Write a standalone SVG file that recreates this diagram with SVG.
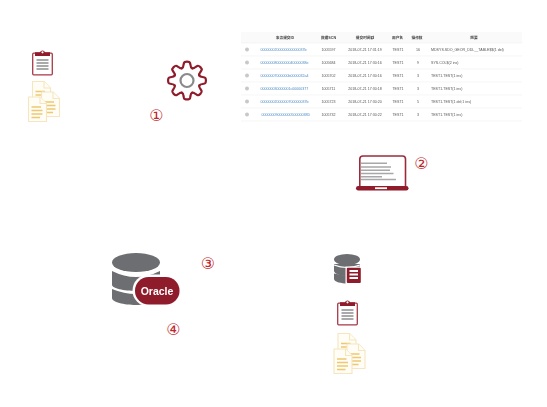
<svg xmlns="http://www.w3.org/2000/svg" xmlns:xlink="http://www.w3.org/1999/xlink" width="547" height="407" viewBox="0 0 547 407">
<style>
text{font-family:"Liberation Sans","Noto Sans CJK SC",sans-serif}
.h{font-size:3.7px;font-weight:bold;fill:#444;text-anchor:middle}
.c{font-size:3.6px;fill:#555;text-anchor:middle}
.l{font-size:3.6px;fill:#555}
.id{font-size:3.6px;fill:#4a8ac6}
.n{font-family:"DejaVu Sans",sans-serif;font-size:16px;fill:#c0272d;text-anchor:middle}
.rule{stroke:#f0f0f0;stroke-width:.6}
.dot{fill:#c8c8c8}
.pl{stroke:#f5e6bf;stroke-width:1.1;fill:#fffdf5;stroke-linejoin:round}
.ll{stroke:#efc872;stroke-width:1.4}
.cl{stroke:#8f8f8f;stroke-width:1.5}
.s{stroke:#8f1d2c;fill:none}
.soft{filter:url(#soft)}
.softer{filter:url(#softer)}
</style>
<defs>
<filter id="soft" x="-5%" y="-5%" width="110%" height="110%"><feGaussianBlur stdDeviation=".35"/></filter>
<filter id="softer" x="-2%" y="-5%" width="104%" height="110%"><feGaussianBlur stdDeviation=".22"/></filter>
<g id="clip">
<rect x=".7" y="2.700" width="19.600" height="21.600" rx="1" fill="#fff" stroke="#a83a48" stroke-width="1.300"/>
<path d="M3 1.800H8A2.600 2.600 0 0 1 13 1.800H18V5.500H3Z" fill="#8f1d2c"/>
<circle cx="10.500" cy="1.800" r="1.100" fill="#fff"/>
<path class="cl" d="M4.500 9.500H16.500M4.500 12.500H16.500M4.500 15.500H16.500M4.500 18.500H16.500"/>
</g>
<g id="page">
<path class="pl" d="M.5.5H12L18.500 7V25H.5Z"/>
<path class="pl" d="M12 .5V7H18.500"/>
<path class="ll" d="M3.500 10.500H13M3.500 14H14.500M3.500 17.500H14.500M3.500 21H12"/>
</g>
<g id="docs">
<use xlink:href="#page" x="4" y="0"/>
<use xlink:href="#page" x="13" y="10.500"/>
<use xlink:href="#page" x="0" y="15.500"/>
</g>
<path id="tooth" class="s" stroke-width="2.200" stroke-linecap="round" d="M-5.200-12.200Q-3.600-13-3.500-15.500L-3-17.600Q-2.600-18.900 0-18.900T3-17.600L3.500-15.500Q3.600-13 5.200-12.200"/>
</defs>

<g id="table" class="softer">
<rect x="241" y="32" width="281" height="90" fill="#fff"/>
<rect x="241" y="32" width="281" height="11" fill="#fafafa"/>
<path class="rule" d="M241 43H522M241 56H522M241 69H522M241 82H522M241 95H522M241 108H522M241 121H522"/>
<text class="h" x="285" y="38.500">事务提交ID</text>
<text class="h" x="328.500" y="38.500">数据SCN</text>
<text class="h" x="365" y="38.500">提交时间戳</text>
<text class="h" x="397.500" y="38.500">用户名</text>
<text class="h" x="417" y="38.500">操作数</text>
<text class="h" x="474" y="38.500">概要</text>
<g>
<circle class="dot" cx="247" cy="49.500" r="2"/><circle class="dot" cx="247" cy="62.500" r="2"/><circle class="dot" cx="247" cy="75.500" r="2"/><circle class="dot" cx="247" cy="88.500" r="2"/><circle class="dot" cx="247" cy="101.500" r="2"/><circle class="dot" cx="247" cy="114.500" r="2"/>
</g>
<text class="id" x="260.500" y="51">0000000200000000000037b</text>
<text class="id" x="260.500" y="64">00000008000000040000038e</text>
<text class="id" x="260.500" y="77">00000007000000b0000032a4</text>
<text class="id" x="260.500" y="90">000000030000001c00000377</text>
<text class="id" x="260.500" y="103">00000002000000700000037b</text>
<text class="id" x="261.500" y="116">00000009000000050000038D</text>
<text class="c" x="328.500" y="51">1005597</text><text class="c" x="328.500" y="64">1005684</text><text class="c" x="328.500" y="77">1005702</text><text class="c" x="328.500" y="90">1005711</text><text class="c" x="328.500" y="103">1005723</text><text class="c" x="328.500" y="116">1005732</text>
<text class="c" x="365" y="51">2018-07-21 17:31:19</text><text class="c" x="365" y="64">2018-07-21 17:30:16</text><text class="c" x="365" y="77">2018-07-21 17:30:16</text><text class="c" x="365" y="90">2018-07-21 17:30:18</text><text class="c" x="365" y="103">2018-07-21 17:30:20</text><text class="c" x="365" y="116">2018-07-21 17:30:22</text>
<text class="c" x="398" y="51">TEST1</text><text class="c" x="398" y="64">TEST1</text><text class="c" x="398" y="77">TEST1</text><text class="c" x="398" y="90">TEST1</text><text class="c" x="398" y="103">TEST1</text><text class="c" x="398" y="116">TEST1</text>
<text class="c" x="418" y="51">16</text><text class="c" x="418" y="64">9</text><text class="c" x="418" y="77">3</text><text class="c" x="418" y="90">3</text><text class="c" x="418" y="103">5</text><text class="c" x="418" y="116">3</text>
<text class="l" x="431" y="51">MDSYS.SDO_GEOR_DDL__TABLE$$(1 del)</text>
<text class="l" x="431" y="64">SYS.COL$(2 ins)</text>
<text class="l" x="431" y="77">TEST1.TEST(1 ins)</text>
<text class="l" x="431" y="90">TEST1.TEST(1 ins)</text>
<text class="l" x="431" y="103">TEST1.TEST(1 del;1 ins)</text>
<text class="l" x="431" y="116">TEST1.TEST(1 ins)</text>
</g>

<g id="clipboard-1" class="soft"><use xlink:href="#clip" x="32" y="50.500"/></g>
<g id="documents-1" class="soft"><use xlink:href="#docs" x="28" y="81"/></g>

<g id="gear" class="soft" transform="translate(187 80.500)">
<use xlink:href="#tooth"/><use xlink:href="#tooth" transform="rotate(45)"/><use xlink:href="#tooth" transform="rotate(90)"/><use xlink:href="#tooth" transform="rotate(135)"/><use xlink:href="#tooth" transform="rotate(180)"/><use xlink:href="#tooth" transform="rotate(225)"/><use xlink:href="#tooth" transform="rotate(270)"/><use xlink:href="#tooth" transform="rotate(315)"/>
<circle r="6.500" fill="none" stroke="#8a8a8a" stroke-width="2.200"/>
</g>

<g id="laptop" class="soft">
<path d="M359.800 186V159Q359.800 156 363 156H402.500Q405.500 156 405.500 159V186" fill="#fff" stroke="#9c2b3a" stroke-width="1.600"/>
<path d="M361 163.300H387M361 167H391M361 170.300H390M361 173.500H393.500M361 176.700H382M361 179.500H396" stroke="#a8a8a8" stroke-width="1.500"/>
<rect x="356" y="186" width="52.500" height="4.500" rx="2.200" fill="#8f1d2c"/>
<rect x="375" y="187.300" width="12" height="1.800" fill="#fff"/>
</g>

<g id="database-oracle" class="soft">
<path d="M112 271V285C112 288 124 291 136 291S160 288 160 285V271Q148 277 136 277T112 271Z" fill="#6d6e71"/>
<path d="M112 289V298C112 302 124 305 136 305S160 302 160 298V289Q148 294 136 294T112 289Z" fill="#6d6e71"/>
<ellipse cx="136" cy="262.500" rx="24" ry="9.500" fill="#6d6e71"/>
<rect x="132.500" y="274.500" width="49" height="32" rx="16" fill="#fff"/>
<rect x="135" y="277" width="44.500" height="27.500" rx="13.500" fill="#8f1d2c"/>
<text x="157" y="295" font-size="10.500" font-weight="bold" fill="#fff" text-anchor="middle">Oracle</text>
</g>

<g id="database-small" class="soft">
<path d="M334 264V271C334 274 342 276 347 276S360 274 360 271V264Z" fill="#6d6e71"/>
<path d="M334 273.500V279C334 282 342 283.500 347 283.500V276Z" fill="#6d6e71"/>
<ellipse cx="347" cy="259.500" rx="13" ry="5.500" fill="#6d6e71"/>
<path d="M334 265Q347 270 360 265" fill="none" stroke="#fff" stroke-width="1.200"/>
<rect x="345.500" y="266.500" width="16" height="17.500" fill="#fff"/>
<rect x="346.800" y="267.700" width="14" height="15.300" rx="1" fill="#8f1d2c"/>
<path d="M349.500 271H358M349.500 274.500H358M349.500 278H358" stroke="#fff" stroke-width="2"/>
</g>

<g id="clipboard-2" class="soft"><use xlink:href="#clip" x="337" y="300.500"/></g>
<g id="documents-2" class="soft"><use xlink:href="#docs" x="333.500" y="333"/></g>

<g id="labels">
<text class="n" x="156.500" y="120.500">①</text>
<text class="n" x="421.500" y="168.500">②</text>
<text class="n" x="208" y="268.500">③</text>
<text class="n" x="173.500" y="335">④</text>
</g>
</svg>
